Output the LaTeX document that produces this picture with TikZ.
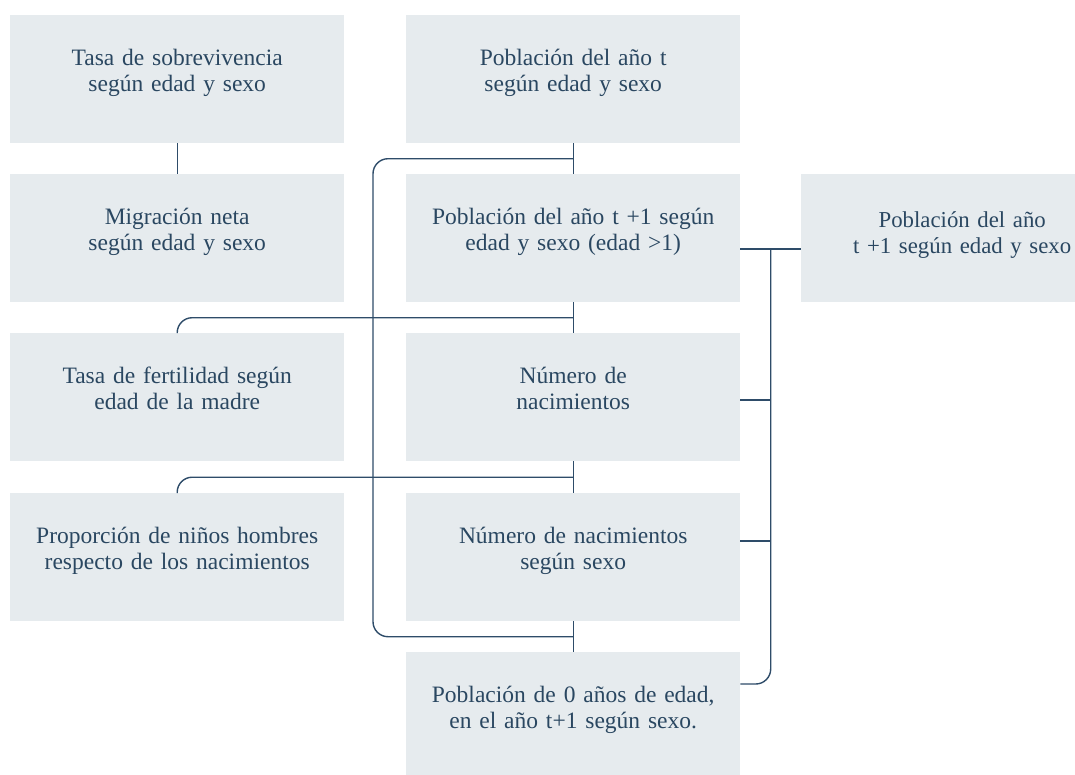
\documentclass[tikz,border=0pt]{standalone}
\usepackage{fontspec}
\setmainfont{Liberation Serif}
\usetikzlibrary{calc}
\definecolor{boxfill}{HTML}{E6EBEE}
\definecolor{txt}{HTML}{2A4761}
\definecolor{ln}{HTML}{2E4C69}
\tikzset{
  boxst/.style={fill=boxfill, inner sep=0pt, text width=334pt, align=center,
    text height=50pt, text depth=78pt, anchor=north west, text=txt,
    font=\fontsize{23.5}{26}\selectfont},
  conn/.style={draw=ln, line width=1.4pt},
  rc/.style={rounded corners=15pt}
}
\begin{document}
\begin{tikzpicture}[x=1pt,y=-1pt]
\useasboundingbox (0,0) rectangle (1075,774);
\clip (0,0) rectangle (1075,774);
% left column
\node[boxst] (a1) at (10,15) {Tasa de sobrevivencia\\según edad y sexo};
\node[boxst] (a2) at (10,174) {Migración neta\\según edad y sexo};
\node[boxst] (a3) at (10,333) {Tasa de fertilidad según\\edad de la madre};
\node[boxst] (a4) at (10,493) {Proporción de niños hombres\\respecto de los nacimientos};
% middle column
\node[boxst] (b1) at (406,15) {Población del año t\\según edad y sexo};
\node[boxst] (b2) at (406,174) {Población del año t +1 según\\edad y sexo (edad >1)};
\node[boxst] (b3) at (406,333) {Número de\\nacimientos};
\node[boxst] (b4) at (406,493) {Número de nacimientos\\según sexo};
\node[boxst] (b5) at (406,652) {Población de 0 años de edad,\\en el año t+1 según sexo.};
% right
\node[boxst, text width=322pt, text height=53pt, text depth=75pt,
      font=\fontsize{22.8}{26}\selectfont] (c) at (801,174) {Población del año\\t +1 según edad y sexo};
% junction coordinates
\coordinate (j1) at ($(b1.south)!0.5!(b2.north)$);
\coordinate (j2) at ($(b2.south)!0.5!(b3.north)$);
\coordinate (j3) at ($(b3.south)!0.5!(b4.north)$);
\coordinate (j4) at ($(b4.south)!0.5!(b5.north)$);
\coordinate (lx) at (373,400);
\coordinate (rx) at ($(b2.east)!0.5!(c.west)$);
\coordinate (t2) at ($(b2.north east)+(0,75)$);
\coordinate (t3) at ($(b3.north east)+(0,67)$);
\coordinate (t4) at ($(b4.north east)+(0,48)$);
\coordinate (t5) at ($(b5.north east)+(0,32)$);
% connectors
\draw[conn] (a1.south) -- (a2.north);
\draw[conn] (b1.south) -- (b2.north);
\draw[conn] (b2.south) -- (b3.north);
\draw[conn] (b3.south) -- (b4.north);
\draw[conn] (b4.south) -- (b5.north);
\draw[conn,rc] (j1) -| (lx) |- (j4);
\draw[conn,rc] (j2) -| (a3.north);
\draw[conn,rc] (j3) -| (a4.north);
\draw[conn] (t2) -- (t2 -| c.west);
\draw[conn,rc] (t2 -| rx) |- (t5);
\draw[conn] (t3) -- (t3 -| rx);
\draw[conn] (t4) -- (t4 -| rx);
\end{tikzpicture}
\end{document}
